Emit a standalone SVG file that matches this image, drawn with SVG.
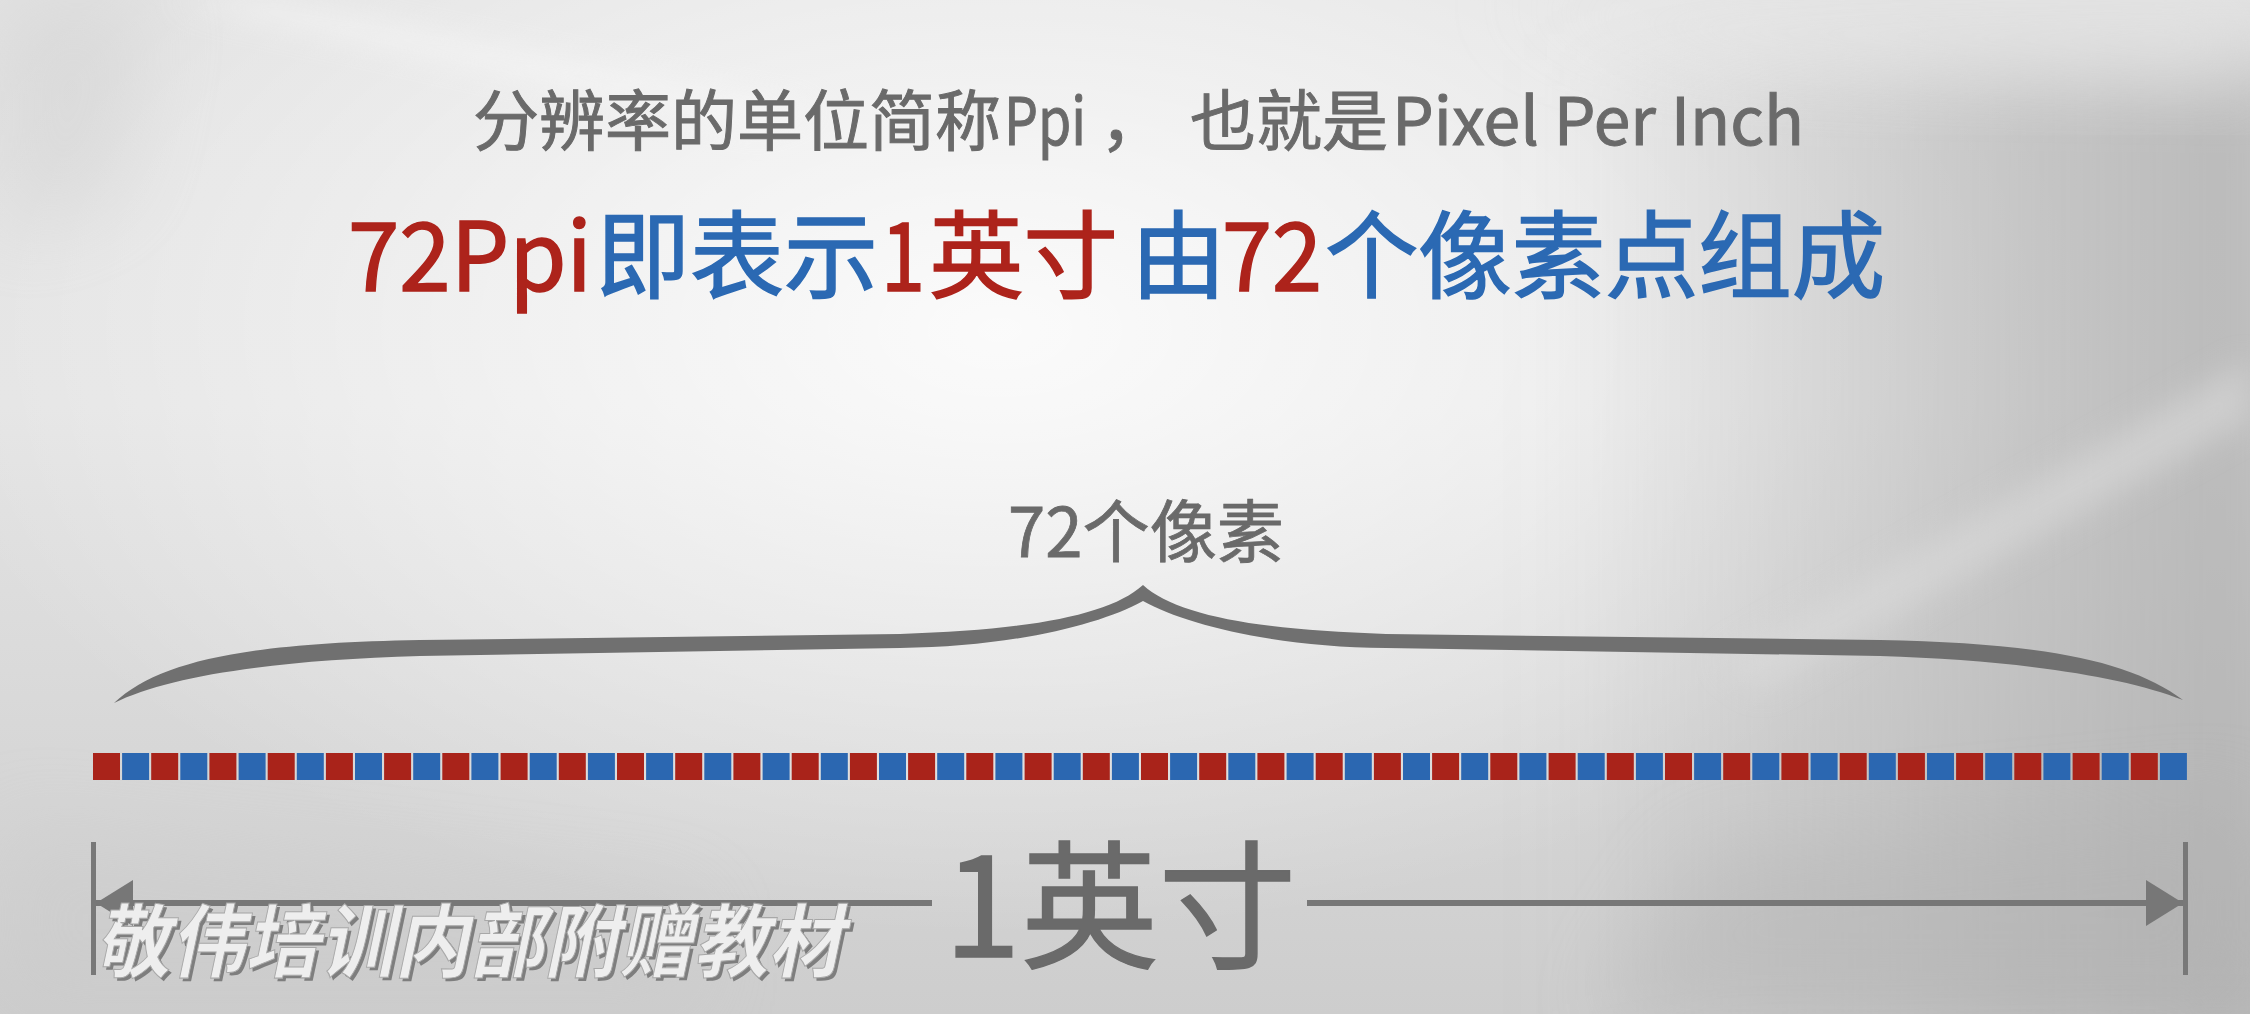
<svg xmlns="http://www.w3.org/2000/svg" width="2250" height="1014" viewBox="0 0 2250 1014">
<defs>
<style>
.cjk{font-family:"Noto Sans CJK SC","Noto Sans",sans-serif;}
.gray{fill:#6a6a6a;stroke:#6a6a6a;}
.red{fill:#ad231b;stroke:#ad231b;}
.blue{fill:#2b69b3;stroke:#2b69b3;}
.r{fill:#a9231a;}
.b{fill:#2b67b1;}
.dim{fill:#787878;}
</style>
<linearGradient id="bgv" x1="0" y1="0" x2="0" y2="1">
<stop offset="0" stop-color="#e2e2e2"/>
<stop offset="0.4" stop-color="#e4e4e4"/>
<stop offset="1" stop-color="#cdcdcd"/>
</linearGradient>
<radialGradient id="hl" cx="1000" cy="330" r="1100" gradientUnits="userSpaceOnUse" gradientTransform="translate(1000 330) scale(1 0.55) translate(-1000 -330)">
<stop offset="0" stop-color="#ffffff" stop-opacity="0.85"/>
<stop offset="0.55" stop-color="#ffffff" stop-opacity="0.4"/>
<stop offset="1" stop-color="#ffffff" stop-opacity="0"/>
</radialGradient>
<linearGradient id="rdark" x1="1550" y1="0" x2="2250" y2="0" gradientUnits="userSpaceOnUse">
<stop offset="0" stop-color="#a8a8a8" stop-opacity="0"/>
<stop offset="0.6" stop-color="#a8a8a8" stop-opacity="0.45"/>
<stop offset="1" stop-color="#a8a8a8" stop-opacity="0.7"/>
</linearGradient>
<filter id="blur40" x="-50%" y="-50%" width="200%" height="200%"><feGaussianBlur stdDeviation="40"/></filter>
<filter id="blur15" x="-50%" y="-50%" width="200%" height="200%"><feGaussianBlur stdDeviation="15"/></filter>
<marker id="ah" markerUnits="userSpaceOnUse" markerWidth="40" markerHeight="48" refX="37" refY="23" orient="auto">
<path d="M0,0 L37,23 L0,46 Z" fill="#777777"/>
</marker>
</defs>

<g id="background">
<rect x="0" y="0" width="2250" height="1014" fill="url(#bgv)"/>
<rect x="0" y="0" width="2250" height="1014" fill="url(#hl)"/>
<rect x="1500" y="60" width="800" height="1000" fill="url(#rdark)" filter="url(#blur40)"/>
<polygon points="2250,360 2250,420 1760,690 1720,660" fill="#dcdcdc" opacity="0.55" filter="url(#blur15)"/>
<polygon points="2250,0 2250,90 1700,60 1500,0" fill="#e6e6e6" opacity="0.6" filter="url(#blur40)"/>
<polygon points="0,0 160,0 120,200 0,240" fill="#cacaca" opacity="0.35" filter="url(#blur40)"/>
<polygon points="170,0 260,0 820,110 760,130" fill="#f6f6f6" opacity="0.7" filter="url(#blur15)"/>
<polygon points="0,820 700,900 700,1014 0,1014" fill="#c6c6c6" opacity="0.25" filter="url(#blur40)"/>
<polygon points="1700,850 2250,800 2250,1014 1600,1014" fill="#b0b0b0" opacity="0.35" filter="url(#blur40)"/>
</g>

<g id="title1" class="cjk gray" font-size="66" stroke-width="1">
<text x="473" y="145" textLength="528" lengthAdjust="spacingAndGlyphs">分辨率的单位简称</text>
<text x="1004" y="145" textLength="82" lengthAdjust="spacingAndGlyphs">Ppi</text>
<text x="1100" y="145">，</text>
<text x="1190" y="145" textLength="198" lengthAdjust="spacingAndGlyphs">也就是</text>
<text x="1392" y="145" textLength="412" lengthAdjust="spacingAndGlyphs">Pixel Per Inch</text>
</g>

<g id="title2" class="cjk" font-size="95" stroke-width="1.6">
<text class="red" x="348" y="291" textLength="244" lengthAdjust="spacingAndGlyphs">72Ppi</text>
<text class="blue" x="596" y="291" textLength="282" lengthAdjust="spacingAndGlyphs">即表示</text>
<text class="red" x="881" y="291" textLength="44" lengthAdjust="spacingAndGlyphs">1</text>
<text class="red" x="929" y="291" textLength="189" lengthAdjust="spacingAndGlyphs">英寸</text>
<text class="blue" x="1131" y="291">由</text>
<text class="red" x="1222" y="291" textLength="100" lengthAdjust="spacingAndGlyphs">72</text>
<text class="blue" x="1325" y="291" textLength="560" lengthAdjust="spacingAndGlyphs">个像素点组成</text>
</g>

<g id="label-72px">
<text class="cjk gray" x="1008" y="557" font-size="68" stroke-width="0.8" textLength="276" lengthAdjust="spacingAndGlyphs">72个像素</text>
</g>

<g id="brace">
<path d="M114,703 C160,660 250,643 420,640 L900,634 C1030,630 1110,615 1143,585 C1176,615 1256,630 1386,634 L1880,640 C2040,643 2130,660 2183,700 C2120,675 2010,660 1880,656 L1386,648 C1276,647 1186,625 1143,601 C1100,625 1010,647 900,648 L420,656 C280,660 170,675 114,703 Z" fill="#707070"/>
</g>

<g id="pixels">
<rect class="r" x="93.0" y="753" width="27" height="27"/>
<rect class="b" x="122.1" y="753" width="27" height="27"/>
<rect class="r" x="151.2" y="753" width="27" height="27"/>
<rect class="b" x="180.3" y="753" width="27" height="27"/>
<rect class="r" x="209.4" y="753" width="27" height="27"/>
<rect class="b" x="238.6" y="753" width="27" height="27"/>
<rect class="r" x="267.7" y="753" width="27" height="27"/>
<rect class="b" x="296.8" y="753" width="27" height="27"/>
<rect class="r" x="325.9" y="753" width="27" height="27"/>
<rect class="b" x="355.0" y="753" width="27" height="27"/>
<rect class="r" x="384.1" y="753" width="27" height="27"/>
<rect class="b" x="413.2" y="753" width="27" height="27"/>
<rect class="r" x="442.3" y="753" width="27" height="27"/>
<rect class="b" x="471.4" y="753" width="27" height="27"/>
<rect class="r" x="500.6" y="753" width="27" height="27"/>
<rect class="b" x="529.7" y="753" width="27" height="27"/>
<rect class="r" x="558.8" y="753" width="27" height="27"/>
<rect class="b" x="587.9" y="753" width="27" height="27"/>
<rect class="r" x="617.0" y="753" width="27" height="27"/>
<rect class="b" x="646.1" y="753" width="27" height="27"/>
<rect class="r" x="675.2" y="753" width="27" height="27"/>
<rect class="b" x="704.3" y="753" width="27" height="27"/>
<rect class="r" x="733.4" y="753" width="27" height="27"/>
<rect class="b" x="762.6" y="753" width="27" height="27"/>
<rect class="r" x="791.7" y="753" width="27" height="27"/>
<rect class="b" x="820.8" y="753" width="27" height="27"/>
<rect class="r" x="849.9" y="753" width="27" height="27"/>
<rect class="b" x="879.0" y="753" width="27" height="27"/>
<rect class="r" x="908.1" y="753" width="27" height="27"/>
<rect class="b" x="937.2" y="753" width="27" height="27"/>
<rect class="r" x="966.3" y="753" width="27" height="27"/>
<rect class="b" x="995.4" y="753" width="27" height="27"/>
<rect class="r" x="1024.6" y="753" width="27" height="27"/>
<rect class="b" x="1053.7" y="753" width="27" height="27"/>
<rect class="r" x="1082.8" y="753" width="27" height="27"/>
<rect class="b" x="1111.9" y="753" width="27" height="27"/>
<rect class="r" x="1141.0" y="753" width="27" height="27"/>
<rect class="b" x="1170.1" y="753" width="27" height="27"/>
<rect class="r" x="1199.2" y="753" width="27" height="27"/>
<rect class="b" x="1228.3" y="753" width="27" height="27"/>
<rect class="r" x="1257.4" y="753" width="27" height="27"/>
<rect class="b" x="1286.6" y="753" width="27" height="27"/>
<rect class="r" x="1315.7" y="753" width="27" height="27"/>
<rect class="b" x="1344.8" y="753" width="27" height="27"/>
<rect class="r" x="1373.9" y="753" width="27" height="27"/>
<rect class="b" x="1403.0" y="753" width="27" height="27"/>
<rect class="r" x="1432.1" y="753" width="27" height="27"/>
<rect class="b" x="1461.2" y="753" width="27" height="27"/>
<rect class="r" x="1490.3" y="753" width="27" height="27"/>
<rect class="b" x="1519.4" y="753" width="27" height="27"/>
<rect class="r" x="1548.6" y="753" width="27" height="27"/>
<rect class="b" x="1577.7" y="753" width="27" height="27"/>
<rect class="r" x="1606.8" y="753" width="27" height="27"/>
<rect class="b" x="1635.9" y="753" width="27" height="27"/>
<rect class="r" x="1665.0" y="753" width="27" height="27"/>
<rect class="b" x="1694.1" y="753" width="27" height="27"/>
<rect class="r" x="1723.2" y="753" width="27" height="27"/>
<rect class="b" x="1752.3" y="753" width="27" height="27"/>
<rect class="r" x="1781.4" y="753" width="27" height="27"/>
<rect class="b" x="1810.6" y="753" width="27" height="27"/>
<rect class="r" x="1839.7" y="753" width="27" height="27"/>
<rect class="b" x="1868.8" y="753" width="27" height="27"/>
<rect class="r" x="1897.9" y="753" width="27" height="27"/>
<rect class="b" x="1927.0" y="753" width="27" height="27"/>
<rect class="r" x="1956.1" y="753" width="27" height="27"/>
<rect class="b" x="1985.2" y="753" width="27" height="27"/>
<rect class="r" x="2014.3" y="753" width="27" height="27"/>
<rect class="b" x="2043.4" y="753" width="27" height="27"/>
<rect class="r" x="2072.6" y="753" width="27" height="27"/>
<rect class="b" x="2101.7" y="753" width="27" height="27"/>
<rect class="r" x="2130.8" y="753" width="27" height="27"/>
<rect class="b" x="2159.9" y="753" width="27" height="27"/>
</g>

<g id="ticks">
<rect class="dim" x="91" y="842" width="5" height="133"/>
<rect class="dim" x="2183" y="842" width="5" height="133"/>
</g>

<g id="connectors" stroke="#777777" stroke-width="6" fill="none">
<line x1="932" y1="903" x2="96" y2="903" marker-end="url(#ah)"/>
<line x1="1307" y1="903" x2="2183" y2="903" marker-end="url(#ah)"/>
</g>

<g id="label-inch">
<text class="cjk gray" x="944" y="957" font-size="138" stroke-width="1.5">1英寸</text>
</g>

<g id="watermark" class="cjk" font-size="80" font-weight="bold">
<text transform="translate(98,974) skewX(-12)" x="0" y="0" fill="#7e7e7e" textLength="748" lengthAdjust="spacingAndGlyphs">敬伟培训内部附赠教材</text>
<text transform="translate(95,971) skewX(-12)" x="0" y="0" fill="#eeeeee" stroke="#a8a8a8" stroke-width="1" textLength="748" lengthAdjust="spacingAndGlyphs">敬伟培训内部附赠教材</text>
</g>
</svg>
